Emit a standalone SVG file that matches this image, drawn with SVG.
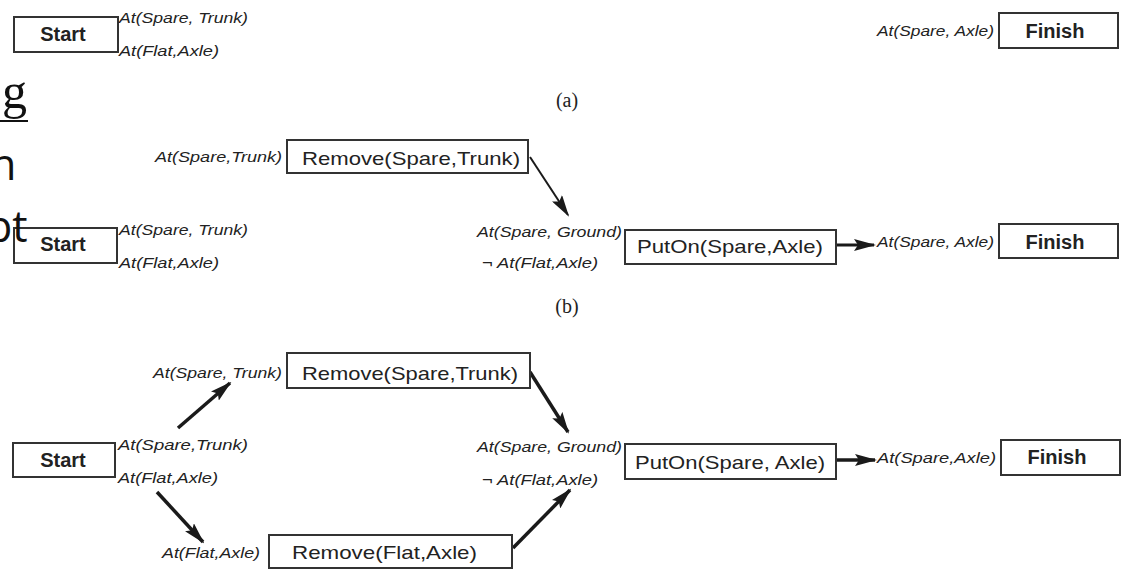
<svg xmlns="http://www.w3.org/2000/svg" width="1124" height="570" viewBox="0 0 1124 570">
<style>
.box{fill:#fff;stroke:#333;stroke-width:2}
.bold{font-family:"Liberation Sans",Arial,sans-serif;font-weight:bold;font-size:20px;fill:#222;text-anchor:middle}
.act{font-family:"Liberation Sans",Arial,sans-serif;font-size:19px;fill:#222}
.lit{font-family:"Liberation Sans",Arial,sans-serif;font-style:italic;font-size:15px;fill:#222}
.cap{font-family:"Liberation Serif","Times New Roman",serif;font-size:20px;fill:#222;text-anchor:middle}
.frag{font-family:"Open Sans","Liberation Sans",sans-serif;font-size:43px;fill:#111}
.ln{stroke:#1a1a1a;fill:none}
</style>
<defs>
<marker id="ah" markerUnits="userSpaceOnUse" markerWidth="22" markerHeight="12" refX="20" refY="6" orient="auto" viewBox="0 0 22 12">
<path d="M0,0 L22,6 L0,12 L4,6 z" fill="#1a1a1a"/>
</marker>
</defs>
<g id="connectors">
<line class="ln" x1="530" y1="157" x2="568" y2="215" stroke-width="2" marker-end="url(#ah)"/>
<line class="ln" x1="836" y1="245" x2="874" y2="245" stroke-width="3" stroke="#555" marker-end="url(#ah)"/>
<line class="ln" x1="178" y1="428" x2="230" y2="383" stroke-width="3.5" marker-end="url(#ah)"/>
<line class="ln" x1="157" y1="492" x2="203" y2="542" stroke-width="3.5" marker-end="url(#ah)"/>
<line class="ln" x1="530" y1="372" x2="568" y2="432" stroke-width="3.5" marker-end="url(#ah)"/>
<line class="ln" x1="513" y1="548" x2="570" y2="490" stroke-width="3.5" marker-end="url(#ah)"/>
<line class="ln" x1="836" y1="460" x2="875" y2="460" stroke-width="3.5" marker-end="url(#ah)"/>
</g>
<!-- (a) -->
<g id="a-start">
<rect class="box" x="14" y="17" width="104" height="35"/>
<text class="bold" x="63" y="41">Start</text>
<text class="lit" x="119" y="23" textLength="129" lengthAdjust="spacingAndGlyphs">At(Spare, Trunk)</text>
<text class="lit" x="119" y="56" textLength="100" lengthAdjust="spacingAndGlyphs">At(Flat,Axle)</text>
</g>
<g id="a-finish">
<text class="lit" x="877" y="36" textLength="117" lengthAdjust="spacingAndGlyphs">At(Spare, Axle)</text>
<rect class="box" x="999" y="13" width="119" height="35"/>
<text class="bold" x="1055" y="38">Finish</text>
</g>
<text id="cap-a" class="cap" x="567" y="107">(a)</text>
<!-- (b) -->
<g id="b-remove-spare">
<text class="lit" x="155" y="162" textLength="127" lengthAdjust="spacingAndGlyphs">At(Spare,Trunk)</text>
<rect class="box" x="287" y="140" width="241" height="33"/>
<text class="act" x="302" y="165" textLength="218" lengthAdjust="spacingAndGlyphs">Remove(Spare,Trunk)</text>
</g>
<g id="b-start">
<rect class="box" x="14" y="228" width="103" height="35"/>
<text class="bold" x="63" y="251">Start</text>
<text class="lit" x="119" y="235" textLength="129" lengthAdjust="spacingAndGlyphs">At(Spare, Trunk)</text>
<text class="lit" x="119" y="268" textLength="100" lengthAdjust="spacingAndGlyphs">At(Flat,Axle)</text>
</g>
<g id="b-puton">
<text class="lit" x="477" y="237" textLength="145" lengthAdjust="spacingAndGlyphs">At(Spare, Ground)</text>
<text class="lit" x="482" y="268" textLength="116" lengthAdjust="spacingAndGlyphs">¬ At(Flat,Axle)</text>
<rect class="box" x="625" y="230" width="211" height="34"/>
<text class="act" x="637" y="253" textLength="186" lengthAdjust="spacingAndGlyphs">PutOn(Spare,Axle)</text>
</g>
<g id="b-finish">
<text class="lit" x="877" y="247" textLength="117" lengthAdjust="spacingAndGlyphs">At(Spare, Axle)</text>
<rect class="box" x="999" y="224" width="119" height="34"/>
<text class="bold" x="1055" y="249">Finish</text>
</g>
<text id="cap-b" class="cap" x="567" y="313">(b)</text>
<!-- (c) -->
<g id="c-remove-spare">
<text class="lit" x="153" y="378" textLength="129" lengthAdjust="spacingAndGlyphs">At(Spare, Trunk)</text>
<rect class="box" x="287" y="353" width="243" height="35"/>
<text class="act" x="302" y="380" textLength="216" lengthAdjust="spacingAndGlyphs">Remove(Spare,Trunk)</text>
</g>
<g id="c-start">
<rect class="box" x="13" y="443" width="102" height="34"/>
<text class="bold" x="63" y="467">Start</text>
<text class="lit" x="118" y="450" textLength="130" lengthAdjust="spacingAndGlyphs">At(Spare,Trunk)</text>
<text class="lit" x="118" y="483" textLength="100" lengthAdjust="spacingAndGlyphs">At(Flat,Axle)</text>
</g>
<g id="c-remove-flat">
<text class="lit" x="162" y="558" textLength="98" lengthAdjust="spacingAndGlyphs">At(Flat,Axle)</text>
<rect class="box" x="269" y="535" width="243" height="33"/>
<text class="act" x="292" y="559" textLength="185" lengthAdjust="spacingAndGlyphs">Remove(Flat,Axle)</text>
</g>
<g id="c-puton">
<text class="lit" x="477" y="452" textLength="145" lengthAdjust="spacingAndGlyphs">At(Spare, Ground)</text>
<text class="lit" x="482" y="485" textLength="116" lengthAdjust="spacingAndGlyphs">¬ At(Flat,Axle)</text>
<rect class="box" x="625" y="444" width="211" height="35"/>
<text class="act" x="635" y="469" textLength="190" lengthAdjust="spacingAndGlyphs">PutOn(Spare, Axle)</text>
</g>
<g id="c-finish">
<text class="lit" x="877" y="463" textLength="119" lengthAdjust="spacingAndGlyphs">At(Spare,Axle)</text>
<rect class="box" x="1001" y="440" width="119" height="35"/>
<text class="bold" x="1057" y="464">Finish</text>
</g>
<g id="background-fragments">
<text x="2" y="108" font-family="Liberation Serif,serif" font-size="50" fill="#111">g</text>
<line x1="0" y1="121" x2="28" y2="121" stroke="#111" stroke-width="2"/>
<text class="frag" x="-10" y="180">n</text>
<text class="frag" x="-14" y="242">pt</text>
</g>
</svg>
